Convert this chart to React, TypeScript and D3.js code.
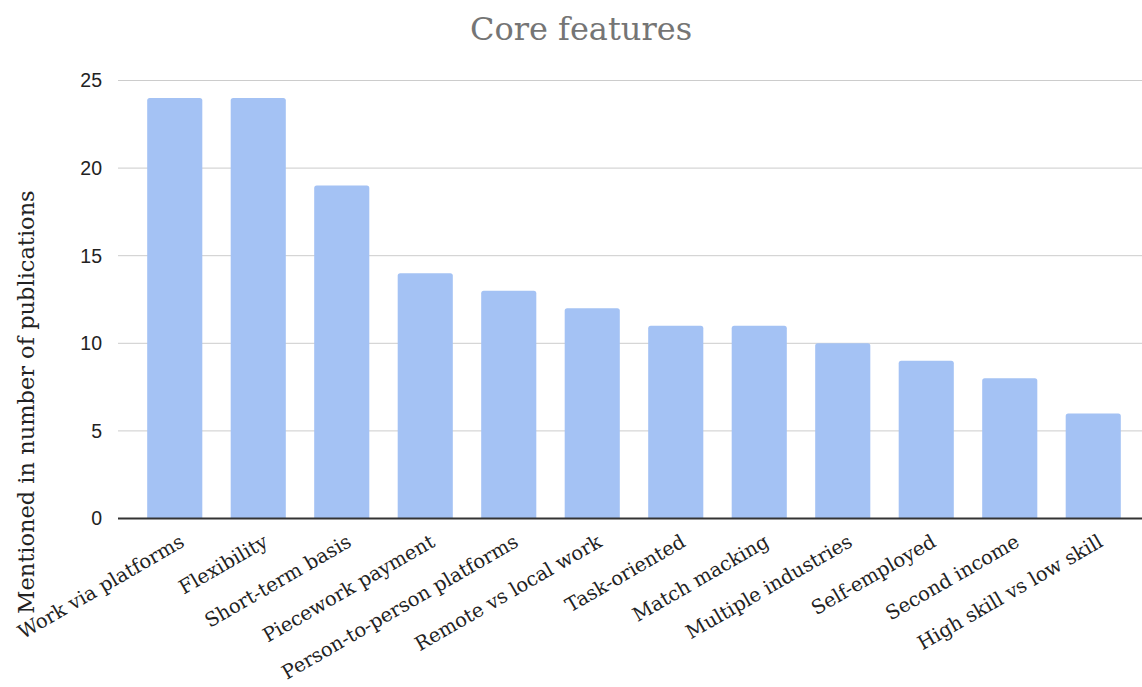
import React from 'react';
import * as d3 from 'd3';

const categories = [
  'Work via platforms',
  'Flexibility',
  'Short-term basis',
  'Piecework payment',
  'Person-to-person platforms',
  'Remote vs local work',
  'Task-oriented',
  'Match macking',
  'Multiple industries',
  'Self-employed',
  'Second income',
  'High skill vs low skill',
];
const mentions = [24, 24, 19, 14, 13, 12, 11, 11, 10, 9, 8, 6];
const yTicks = [0, 5, 10, 15, 20, 25];

const W = 1142;
const H = 687;
const serif = '"DejaVu Serif", Georgia, serif';
const sans = '"Liberation Sans", Arial, sans-serif';

const App = () => {
  const data = categories.map((label, i) => ({ label, value: mentions[i] }));

  const x = d3.scaleBand<string>()
    .domain(categories)
    .range([133, 1135])
    .paddingInner(0.34)
    .paddingOuter(0.17);

  const y = d3.scaleLinear().domain([0, 25]).range([518.5, 80.5]);

  // bar with only the top corners rounded
  const barPath = (x0: number, y0: number, w: number, h: number, r: number) =>
    `M${x0},${y0 + h}V${y0 + r}Q${x0},${y0} ${x0 + r},${y0}H${x0 + w - r}Q${x0 + w},${y0} ${x0 + w},${y0 + r}V${y0 + h}Z`;

  return (
    <svg width={W} height={H} style={{ display: 'block', position: 'absolute', left: 0, top: 0 }}>
      <rect width={W} height={H} fill="#fff" />
      <text x={581} y={40} textAnchor="middle" fontFamily={serif} fontSize={32} fill="#757575">
        Core features
      </text>

      {/* gridlines */}
      {yTicks.filter(t => t > 0).map(t => (
        <line key={t} x1={118} x2={W} y1={y(t)} y2={y(t)} stroke="#cccccc" strokeWidth={1} />
      ))}

      {/* y tick labels */}
      {yTicks.map(t => (
        <text key={t} x={102} y={y(t)} dy="0.35em" textAnchor="end" fontFamily={sans} fontSize={19.5} fill="#222">
          {t}
        </text>
      ))}

      <text
        transform={`translate(34,402) rotate(-90)`}
        textAnchor="middle"
        fontFamily={serif}
        fontSize={22.5}
        fill="#222"
      >
        Mentioned in number of publications
      </text>

      {/* bars */}
      {data.map(d => (
        <path
          key={d.label}
          d={barPath(x(d.label)!, y(d.value), x.bandwidth(), y(0) - y(d.value), 2.5)}
          fill="#a4c2f4"
        />
      ))}

      {/* baseline */}
      <line x1={118} x2={W} y1={y(0)} y2={y(0)} stroke="#333" strokeWidth={2} />

      {/* category labels */}
      {data.map(d => {
        const cx = x(d.label)! + x.bandwidth() / 2;
        return (
          <text
            key={d.label}
            transform={`translate(${cx + 11},${y(0) + 27}) rotate(-30)`}
            textAnchor="end"
            fontFamily={serif}
            fontSize={19.5}
            fill="#222"
          >
            {d.label}
          </text>
        );
      })}
    </svg>
  );
};

export default App;
